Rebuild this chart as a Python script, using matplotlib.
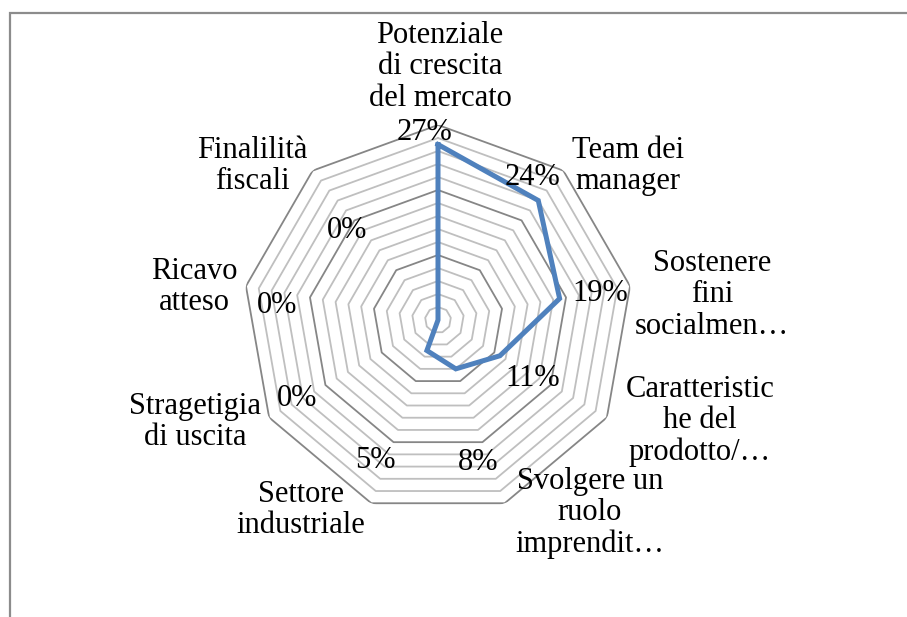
import numpy as np
import matplotlib
matplotlib.use("Agg")
import matplotlib.pyplot as plt
from matplotlib.patches import Rectangle

# ---- data ----
categories = [
    "Potenziale\ndi crescita\ndel mercato",
    "Team dei\nmanager",
    "Sostenere\nfini\nsocialmen…",
    "Caratteristic\nhe del\nprodotto/…",
    "Svolgere un\nruolo\nimprendit…",
    "Settore\nindustriale",
    "Stragetigia\ndi uscita",
    "Ricavo\natteso",
    "Finalilità\nfiscali",
]
values = [0.27, 0.24, 0.19, 0.11, 0.08, 0.05, 0.0, 0.0, 0.0]
value_labels = ["27%", "24%", "19%", "11%", "8%", "5%", "0%", "0%", "0%"]
ring_levels = [0.02, 0.04, 0.06, 0.08, 0.10, 0.12, 0.14, 0.16, 0.18, 0.20,
               0.22, 0.24, 0.26, 0.28, 0.30]
major_levels = [0.10, 0.20, 0.30]

# ---- layout (pixel positions of label centres) ----
W, H = 907, 617
cat_pos = [(440, 67), (628, 166), (712, 295), (700, 421), (590, 513),
           (301, 510), (195, 422), (194, 287), (252, 166)]
val_pos = [(425, 133), (532, 178), (600, 293), (533, 378), (478, 462),
           (375, 460), (297, 398), (277, 305), (347, 230)]

FONT = "Liberation Serif"
FS = 22

fig = plt.figure(figsize=(W / 100, H / 100), dpi=100)
fig.patch.set_facecolor("white")

# chart border
fig.patches.append(Rectangle((9.5 / W, -0.1), 1.2, (1 - 12.5 / H) + 0.1,
                             transform=fig.transFigure, fill=False,
                             edgecolor="#8c8c8c", linewidth=1.6))

cx, cy, R = 438, 320, 195
ax = fig.add_axes([(cx - R) / W, (H - cy - R) / H, 2 * R / W, 2 * R / H],
                  projection="polar")
ax.set_theta_offset(np.pi / 2)
ax.set_theta_direction(-1)
ax.set_ylim(0, 0.30)
ax.set_xticks([])
ax.set_yticks([])
ax.grid(False)
ax.spines["polar"].set_visible(False)
ax.patch.set_alpha(0)

n = len(categories)
theta = np.linspace(0, 2 * np.pi, n, endpoint=False)
theta_closed = np.append(theta, theta[0])

for lv in ring_levels:
    major = any(abs(lv - m) < 1e-9 for m in major_levels)
    ax.plot(theta_closed, [lv] * (n + 1),
            color="#868686" if major else "#bfbfbf",
            linewidth=1.3, zorder=1)

ax.plot(theta_closed, values + [values[0]], color="#4F81BD",
        linewidth=3.6, solid_joinstyle="miter", zorder=3, clip_on=False)

for (px, py), txt in zip(cat_pos, categories):
    fig.text(px / W, 1 - py / H, txt, ha="center", va="center",
             multialignment="center", fontsize=FS, family=FONT,
             linespacing=1.12, color="black")

for (px, py), txt in zip(val_pos, value_labels):
    fig.text(px / W, 1 - py / H, txt, ha="center", va="center",
             fontsize=FS, family=FONT, color="black")

fig.savefig("out.png", dpi=100, facecolor="white")
